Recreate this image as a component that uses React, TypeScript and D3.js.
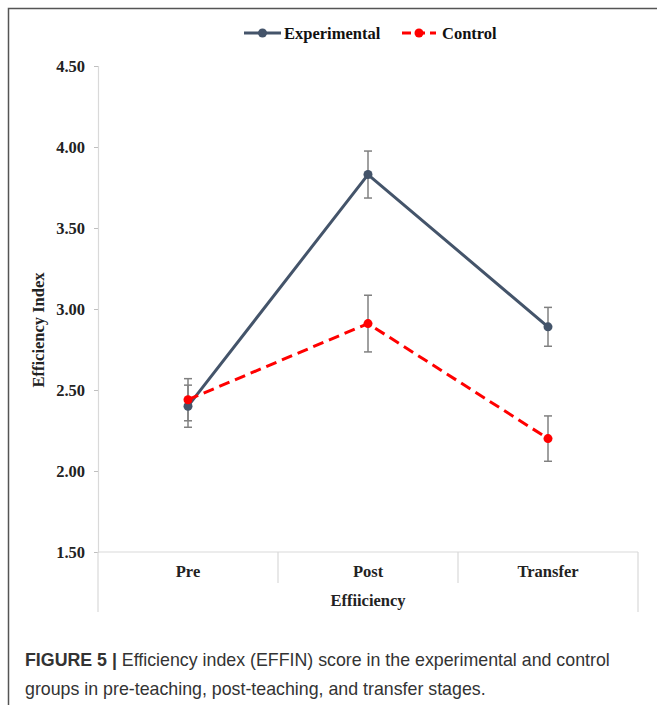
import React, { useRef, useEffect } from 'react';
import * as d3 from 'd3';

// stages on the x axis
const stages = ['Pre', 'Post', 'Transfer'];
const yTicks = [1.5, 2.0, 2.5, 3.0, 3.5, 4.0, 4.5];

const experimentalMeans = [2.40, 3.83, 2.89];
const experimentalErr = [0.13, 0.145, 0.12];
const controlMeans = [2.44, 2.91, 2.20];
const controlErr = [0.13, 0.175, 0.14];

const seriesNames = ['Experimental', 'Control'];
const seriesColors = ['#44546A', '#FF0000'];

const App = () => {
    const ref = useRef<SVGSVGElement>(null);

    useEffect(() => {
        d3.select(ref.current).selectAll('*').remove();

        const W = 657, H = 705;
        const margin = { top: 66, right: 19, bottom: 153, left: 98 };
        const plotW = W - margin.left - margin.right;
        const plotH = H - margin.top - margin.bottom;
        const serif = '"Liberation Serif", "Times New Roman", serif';
        const fs = '16.5px';

        const svg = d3.select(ref.current)
            .attr('width', W)
            .attr('height', H);

        // figure frame (only left and top edges visible)
        svg.append('path')
            .attr('d', `M8.5,${H} V8.5 H${W}`)
            .attr('fill', 'none')
            .attr('stroke', '#555')
            .attr('stroke-width', 1.5);

        const g = svg.append('g')
            .attr('transform', `translate(${margin.left}, ${margin.top})`);

        const x = d3.scaleBand().domain(stages).range([0, plotW]);
        const y = d3.scaleLinear().domain([1.5, 4.5]).range([plotH, 0]);
        const cx = (s: string) => (x(s) as number) + x.bandwidth() / 2;

        // y axis
        const yAxis = g.append('g')
            .call(d3.axisLeft(y).tickValues(yTicks).tickFormat(d3.format('.2f')).tickSize(4).tickPadding(9));
        yAxis.select('.domain').attr('stroke', '#d9d9d9').attr('stroke-width', 1.2);
        yAxis.selectAll('.tick line').attr('stroke', '#bfbfbf');
        yAxis.selectAll('.tick text')
            .attr('fill', '#222')
            .style('font-family', serif)
            .style('font-size', fs)
            .style('font-weight', 'bold');

        // x axis with category separators
        g.append('line')
            .attr('x1', 0).attr('x2', plotW)
            .attr('y1', plotH).attr('y2', plotH)
            .attr('stroke', '#d9d9d9').attr('stroke-width', 1.2);
        const bounds = [0, ...stages.map(s => (x(s) as number) + x.bandwidth())];
        bounds.forEach((b, i) => {
            const outer = i === 0 || i === bounds.length - 1;
            g.append('line')
                .attr('x1', b).attr('x2', b)
                .attr('y1', plotH).attr('y2', plotH + (outer ? 60 : 31))
                .attr('stroke', '#d9d9d9').attr('stroke-width', 1.2);
        });
        stages.forEach(s => {
            g.append('text')
                .attr('x', cx(s)).attr('y', plotH + 25)
                .attr('text-anchor', 'middle')
                .attr('fill', '#222')
                .style('font-family', serif)
                .style('font-size', fs)
                .style('font-weight', 'bold')
                .text(s);
        });
        g.append('text')
            .attr('x', plotW / 2).attr('y', plotH + 54)
            .attr('text-anchor', 'middle')
            .attr('fill', '#222')
            .style('font-family', serif)
            .style('font-size', fs)
            .style('font-weight', 'bold')
            .text('Effiiciency');

        // y axis title
        g.append('text')
            .attr('transform', `translate(${-54}, ${plotH / 2 + 21}) rotate(-90)`)
            .attr('text-anchor', 'middle')
            .attr('fill', '#222')
            .style('font-family', serif)
            .style('font-size', fs)
            .style('font-weight', 'bold')
            .text('Efficiency Index');

        const data = [
            { means: experimentalMeans, err: experimentalErr, dashed: false },
            { means: controlMeans, err: controlErr, dashed: true },
        ];

        const line = d3.line<number>()
            .x((_, i) => cx(stages[i]))
            .y(d => y(d));

        // error bars first
        data.forEach(series => {
            series.means.forEach((m, i) => {
                const px = cx(stages[i]);
                const top = y(m + series.err[i]);
                const bot = y(m - series.err[i]);
                g.append('line')
                    .attr('x1', px).attr('x2', px).attr('y1', top).attr('y2', bot)
                    .attr('stroke', '#808080').attr('stroke-width', 1.5);
                [top, bot].forEach(yy => {
                    g.append('line')
                        .attr('x1', px - 4).attr('x2', px + 4).attr('y1', yy).attr('y2', yy)
                        .attr('stroke', '#808080').attr('stroke-width', 1.5);
                });
            });
        });

        data.forEach((series, si) => {
            const path = g.append('path')
                .datum(series.means)
                .attr('fill', 'none')
                .attr('stroke', seriesColors[si])
                .attr('stroke-width', 3)
                .attr('d', line);
            if (series.dashed) {
                path.attr('stroke-dasharray', '11, 6');
            }
            series.means.forEach((m, i) => {
                g.append('circle')
                    .attr('cx', cx(stages[i]))
                    .attr('cy', y(m))
                    .attr('r', 4.5)
                    .attr('fill', seriesColors[si]);
            });
        });

        // legend
        const legendItems = [
            { x: 244, w: 37, textX: 284 },
            { x: 402, w: 34, textX: 442 },
        ];
        legendItems.forEach((it, i) => {
            const lg = svg.append('g');
            lg.append('line')
                .attr('x1', it.x).attr('x2', it.x + it.w)
                .attr('y1', 33).attr('y2', 33)
                .attr('stroke', seriesColors[i])
                .attr('stroke-width', 3)
                .attr('stroke-dasharray', i === 1 ? '9, 5' : null);
            lg.append('circle')
                .attr('cx', it.x + it.w / 2).attr('cy', 33).attr('r', 4.5)
                .attr('fill', seriesColors[i]);
            lg.append('text')
                .attr('x', it.textX).attr('y', 38.5)
                .attr('fill', '#111')
                .style('font-family', serif)
                .style('font-size', fs)
                .style('font-weight', 'bold')
                .text(seriesNames[i]);
        });

        // caption
        const cap = svg.append('text')
            .attr('fill', '#333')
            .style('font-family', '"Liberation Sans", Arial, sans-serif')
            .style('font-size', '17.8px');
        const l1 = cap.append('tspan').attr('x', 25).attr('y', 666);
        l1.append('tspan').style('font-weight', 'bold').text('FIGURE 5 | ');
        l1.append('tspan').text('Efficiency index (EFFIN) score in the experimental and control');
        cap.append('tspan').attr('x', 25).attr('y', 695)
            .text('groups in pre-teaching, post-teaching, and transfer stages.');
    }, []);

    return (
        <div style={{ position: 'absolute', left: 0, top: 0 }}>
            <svg ref={ref} style={{ display: 'block' }} />
        </div>
    );
};

export default App;
